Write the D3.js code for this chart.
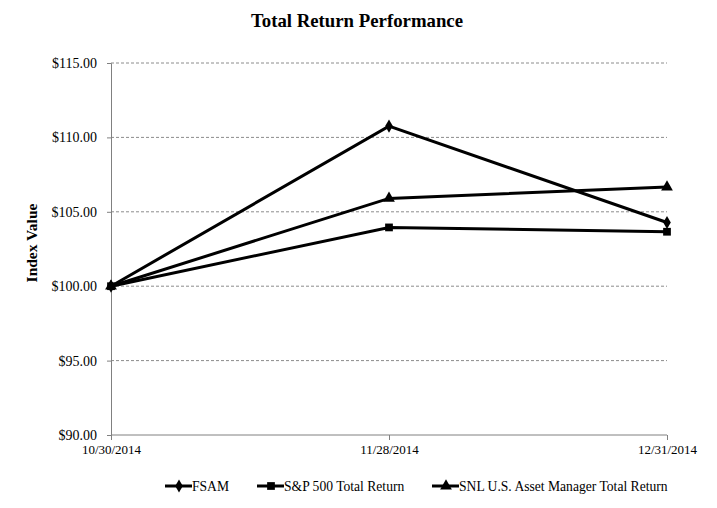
<!DOCTYPE html>
<html>
<head>
<meta charset="utf-8">
<title>Total Return Performance</title>
<script src="https://d3js.org/d3.v7.min.js"></script>
<style>
    html, body { margin: 0; padding: 0; background: white; }
    svg text { font-family: "Liberation Serif", "Times New Roman", serif; fill: #000; }
</style>
</head>
<body>
<div id="graph"></div>
<script>
    // data
    var dates = ["10/30/2014", "11/28/2014", "12/31/2014"];
    var fsam = [100.00, 110.76, 104.28];
    var sp500 = [100.00, 103.95, 103.66];
    var snl = [100.00, 105.90, 106.66];
    var yTicks = [90, 95, 100, 105, 110, 115];
    var seriesNames = ["FSAM", "S&P 500 Total Return", "SNL U.S. Asset Manager Total Return"];

    var W = 717, H = 508;
    var margin = {top: 63, right: 50, bottom: 73, left: 111},
        width = W - margin.left - margin.right,
        height = H - margin.top - margin.bottom;

    var svg = d3.select("#graph").append("svg")
        .attr("width", W).attr("height", H);

    svg.append("text")
        .attr("x", 357).attr("y", 27)
        .attr("text-anchor", "middle")
        .style("font-size", "18.8px").style("font-weight", "bold")
        .text("Total Return Performance");

    svg.append("text")
        .attr("transform", "translate(37," + (margin.top + height / 2 - 6) + ") rotate(-90)")
        .attr("text-anchor", "middle")
        .style("font-size", "15.5px").style("font-weight", "bold")
        .text("Index Value");

    var g = svg.append("g")
        .attr("transform", "translate(" + margin.left + "," + margin.top + ")");

    var x = d3.scalePoint().domain(dates).range([0, width]);
    var y = d3.scaleLinear().domain([90, 115]).range([height, 0]);

    // dashed grid
    g.selectAll(".grid").data(yTicks.filter(function(d) { return d > 90; }))
        .enter().append("line")
        .attr("x1", 0).attr("x2", width)
        .attr("y1", function(d) { return y(d); })
        .attr("y2", function(d) { return y(d); })
        .attr("stroke", "#8c8c8c").attr("stroke-dasharray", "3,2")
        .attr("stroke-width", 1);

    var yAxis = d3.axisLeft(y).tickValues(yTicks).tickSize(4).tickPadding(10)
        .tickFormat(function(d) { return "$" + d3.format(".2f")(d); });
    var yg = g.append("g").call(yAxis);
    yg.attr("font-family", null);
    yg.select(".domain").attr("stroke", "#808080");
    yg.selectAll(".tick line").attr("stroke", "#808080");
    yg.selectAll(".tick text").style("font-size", "14px");

    var xAxis = d3.axisBottom(x).tickSize(5).tickPadding(5);
    var xg = g.append("g").attr("transform", "translate(0," + height + ")").call(xAxis);
    xg.attr("font-family", null);
    xg.select(".domain").attr("stroke", "#808080")
        .attr("d", "M0,0H" + width);
    xg.selectAll(".tick line").attr("stroke", "#808080");
    xg.selectAll(".tick text").style("font-size", "13px");

    var allSeries = [fsam, sp500, snl];
    var symbols = [d3.symbolDiamond, d3.symbolSquare, d3.symbolTriangle];
    var symSizes = [50, 60, 60];

    var line = d3.line()
        .x(function(d, i) { return x(dates[i]); })
        .y(function(d) { return y(d); });

    allSeries.forEach(function(s, k) {
        g.append("path").datum(s)
            .attr("d", line)
            .attr("fill", "none").attr("stroke", "#000").attr("stroke-width", 3);
        g.selectAll(".m" + k).data(s).enter().append("path")
            .attr("transform", function(d, i) { return "translate(" + x(dates[i]) + "," + y(d) + ")"; })
            .attr("d", d3.symbol().type(symbols[k]).size(symSizes[k]))
            .attr("fill", "#000");
    });

    // legend
    var legX = [165, 257, 432];
    var legY = 486;
    var leg = svg.append("g");
    seriesNames.forEach(function(name, k) {
        leg.append("line")
            .attr("x1", legX[k]).attr("x2", legX[k] + 27)
            .attr("y1", legY).attr("y2", legY)
            .attr("stroke", "#000").attr("stroke-width", 3);
        leg.append("path")
            .attr("transform", "translate(" + (legX[k] + 14) + "," + legY + ")")
            .attr("d", d3.symbol().type(symbols[k]).size(symSizes[k]))
            .attr("fill", "#000");
        leg.append("text")
            .attr("x", legX[k] + 27).attr("y", legY + 4.5)
            .style("font-size", "13.6px")
            .text(name);
    });
</script>
</body>
</html>
